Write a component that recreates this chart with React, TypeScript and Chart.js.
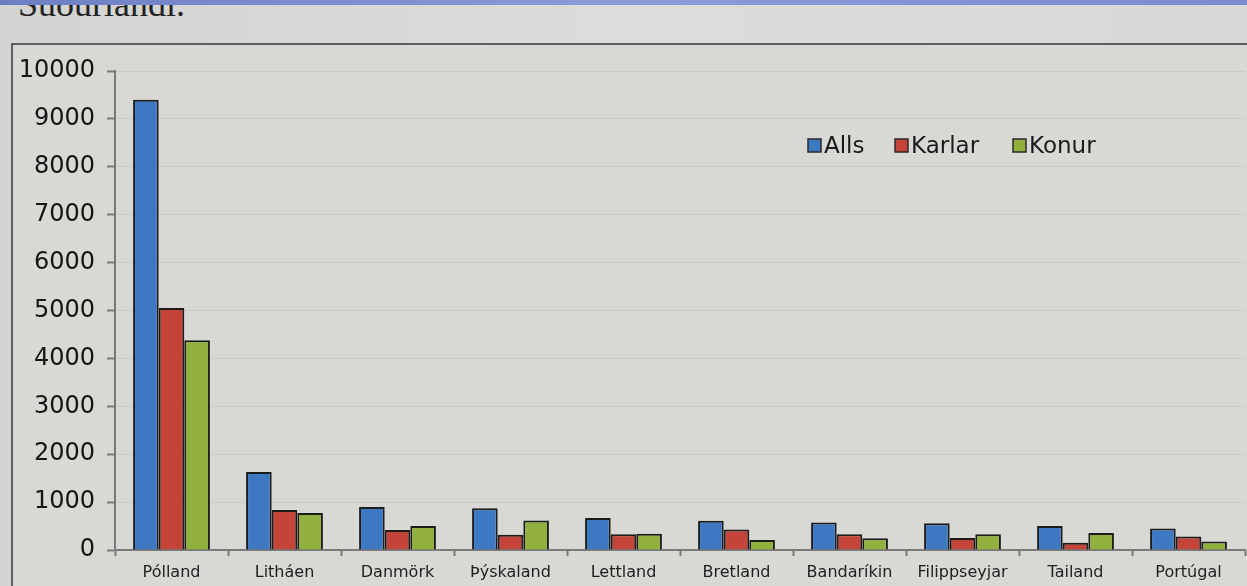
import React, { useEffect, useRef } from "react";
import { Chart, registerables } from "chart.js";

Chart.register(...registerables);

const categories = ["Pólland", "Litháen", "Danmörk", "Þýskaland", "Lettland", "Bretland", "Bandaríkin", "Filippseyjar", "Tailand", "Portúgal"];
const alls = [9400, 1630, 900, 870, 670, 610, 575, 560, 500, 450];
const karlar = [5050, 835, 420, 320, 330, 430, 330, 250, 150, 280];
const konur = [4380, 770, 500, 615, 340, 210, 245, 330, 355, 180];
const seriesNames = ["Alls", "Karlar", "Konur"];
const seriesColors = ["#3d78c2", "#c4443a", "#91b03e"];
const yTicks = [0, 1000, 2000, 3000, 4000, 5000, 6000, 7000, 8000, 9000, 10000];

const legendPlugin = {
  id: "customLegend",
  afterDraw(chart: any) {
    const ctx = chart.ctx;
    const xs = [808, 895, 1013];
    const y = 146;
    ctx.save();
    ctx.font = "23px 'DejaVu Sans'";
    ctx.textBaseline = "middle";
    ctx.textAlign = "left";
    chart.data.datasets.forEach((ds: any, i: number) => {
      const x = xs[i];
      ctx.fillStyle = ds.backgroundColor;
      ctx.fillRect(x, y - 7, 13, 13);
      ctx.strokeStyle = "#2a2a2a";
      ctx.lineWidth = 1.5;
      ctx.strokeRect(x, y - 7, 13, 13);
      ctx.fillStyle = "#1a1a1a";
      ctx.fillText(ds.label, x + 16, y + 1);
    });
    ctx.restore();
  },
};

export default function App() {
  const canvasRef = useRef<HTMLCanvasElement | null>(null);

  useEffect(() => {
    document.body.style.margin = "0";
    const canvas = canvasRef.current;
    if (!canvas) return;
    const data = [alls, karlar, konur];
    const chart = new Chart(canvas, {
      type: "bar",
      data: {
        labels: categories,
        datasets: data.map((d, i) => ({
          label: seriesNames[i],
          data: d,
          backgroundColor: seriesColors[i],
          borderColor: "#1c1c1c",
          borderWidth: 2,
          borderSkipped: "bottom",
          barPercentage: 1,
          categoryPercentage: 0.68,
        })),
      },
      options: {
        responsive: false,
        animation: false,
        maintainAspectRatio: false,
        layout: { padding: { left: 0, top: 71, right: 2, bottom: 0 } },
        plugins: {
          legend: { display: false },
          tooltip: { enabled: false },
          title: { display: false },
        },
        scales: {
          x: {
            grid: {
              display: true,
              offset: true,
              drawOnChartArea: false,
              drawTicks: true,
              tickLength: 6,
              tickColor: "#7a7a7a",
              tickWidth: 2,
            },
            border: { display: true, color: "#7a7a7a", width: 2 },
            ticks: {
              color: "#1e1e1e",
              font: { family: "'DejaVu Sans'", size: 16 },
              padding: 7,
              maxRotation: 0,
              autoSkip: false,
            },
            afterFit: (scale: any) => {
              scale.height = 36;
            },
          },
          y: {
            min: 0,
            max: 10000,
            afterBuildTicks: (scale: any) => {
              scale.ticks = yTicks.map((v) => ({ value: v }));
            },
            grid: {
              color: "rgba(190,190,180,0.45)",
              lineWidth: 1,
              tickLength: 8,
              tickColor: "#7a7a7a",
              tickWidth: 2,
            },
            border: { display: true, color: "#7a7a7a", width: 2 },
            ticks: {
              color: "#151515",
              font: { family: "'DejaVu Sans'", size: 24 },
              padding: 12,
              callback: (v: any) => String(v),
            },
            afterFit: (scale: any) => {
              scale.width = 115;
            },
          },
        },
      },
      plugins: [legendPlugin],
    });
    return () => chart.destroy();
  }, []);

  return (
    <div
      style={{
        position: "relative",
        width: 1247,
        height: 586,
        overflow: "hidden",
        background: "linear-gradient(90deg, #d3d3d1 0%, #dcdcda 50%, #d8d8d6 100%)",
      }}
    >
      <div
        style={{
          position: "absolute",
          left: 0,
          top: 0,
          width: 1247,
          height: 5,
          background: "linear-gradient(90deg, #6d7fc4 0%, #8e9ad8 50%, #7c8bd0 100%)",
          zIndex: 2,
        }}
      />
      <div
        style={{
          position: "absolute",
          left: 18,
          top: 4,
          fontFamily: "'Liberation Serif', serif",
          fontSize: 36,
          color: "#222",
          lineHeight: "0px",
          whiteSpace: "nowrap",
        }}
      >
        Suðurlandi.
      </div>
      <div
        style={{
          position: "absolute",
          left: 11,
          top: 43,
          width: 1250,
          height: 560,
          borderLeft: "2px solid #5f5f5f",
          borderTop: "2px solid #5f5f5f",
          background: "#d8d8d5",
        }}
      />
      <canvas
        ref={canvasRef}
        width={1247}
        height={586}
        style={{ position: "absolute", left: 0, top: 0, width: 1247, height: 586 }}
      />
    </div>
  );
}
